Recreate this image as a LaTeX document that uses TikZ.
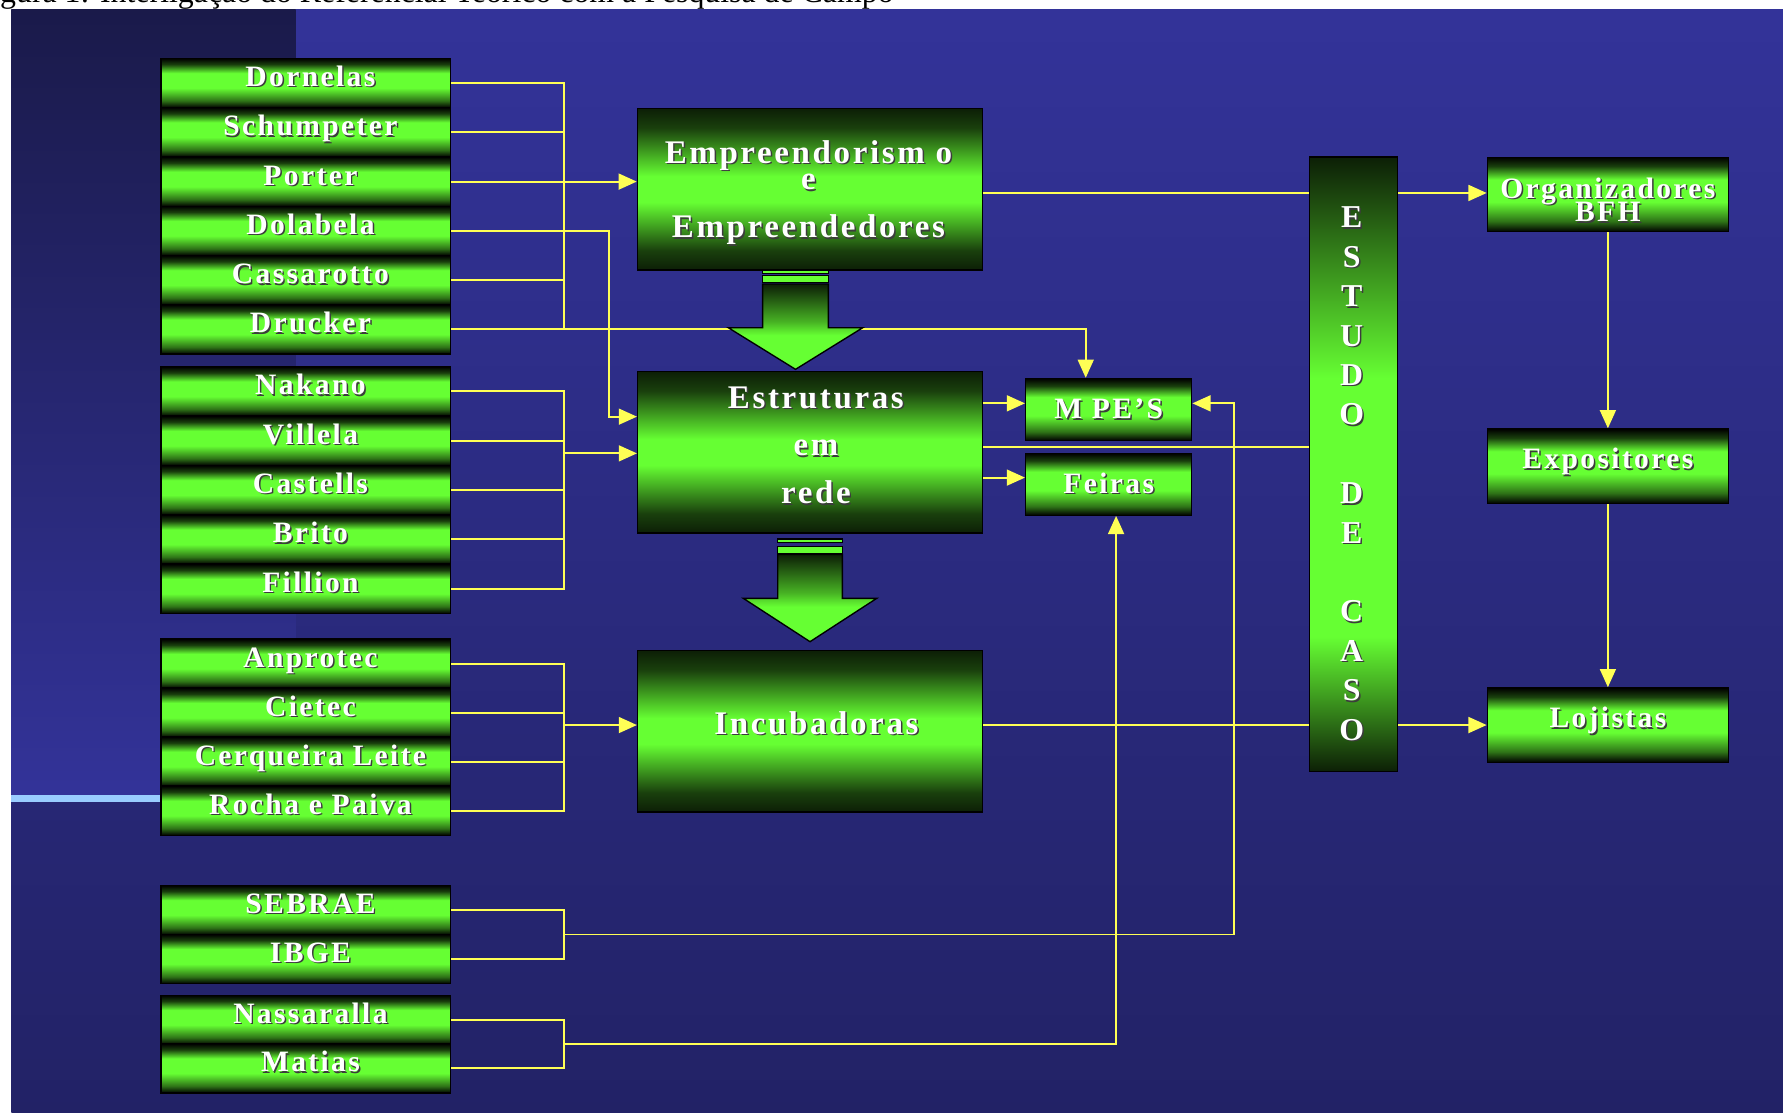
\documentclass[tikz,border=0pt]{standalone}
\usepackage{fontspec}
\usetikzlibrary{arrows.meta,calc}
\newfontfamily\lbl[LetterSpace=8]{Liberation Serif}
\newfontfamily\capfont{Liberation Serif}
\definecolor{gr}{RGB}{102,255,51}
\definecolor{ylw}{RGB}{255,255,85}
\definecolor{slidetop}{RGB}{51,51,153}
\definecolor{slidebot}{RGB}{34,34,102}
\definecolor{striptop}{RGB}{26,26,74}
\definecolor{lblue}{RGB}{153,204,255}
\definecolor{shadowc}{RGB}{60,60,60}
\colorlet{dkA}{black!55!gr}
\colorlet{dkB}{black!75!gr}
\colorlet{dkC}{black!88!gr}
\colorlet{dkD}{black!30!gr}
\pgfdeclareverticalshading{cylshade}{100bp}{color(0bp)=(black); color(25bp)=(black); color(32bp)=(dkA); color(45bp)=(gr); color(60bp)=(gr); color(69bp)=(dkB); color(75bp)=(black); color(100bp)=(black)}
\pgfdeclareverticalshading{bigshade}{100bp}{color(0bp)=(dkC); color(25bp)=(dkC); color(31bp)=(dkB); color(46bp)=(gr); color(54bp)=(gr); color(69bp)=(dkB); color(75bp)=(dkC); color(100bp)=(dkC)}
\pgfdeclareverticalshading{colshade}{100bp}{color(0bp)=(dkC); color(25bp)=(dkC); color(36bp)=(gr); color(57bp)=(gr); color(75bp)=(dkC); color(100bp)=(dkC)}
\pgfdeclareverticalshading{arrshade}{100bp}{color(0bp)=(gr); color(25bp)=(gr); color(45bp)=(gr); color(53bp)=(dkD); color(75bp)=(dkC); color(100bp)=(dkC)}
\newcommand\shd[1]{\leavevmode\rlap{\kern1.3pt\raisebox{-1.3pt}{\textcolor{shadowc}{#1}}}#1}
\pgfdeclarelayer{background}
\pgfdeclarelayer{lines}
\pgfsetlayers{background,lines,main}
\tikzset{
  ln/.style={draw=ylw, line width=1.7pt},
  arr/.style={ln, -{Triangle[length=16pt,width=14pt]}},
  box/.style={draw=black, line width=1.2pt, inner sep=0pt, text=white, shade},
  smallbox/.style={box, shading=cylshade, minimum width=254.8pt, minimum height=43.3pt,
    font=\lbl\bfseries\fontsize{26}{30}\selectfont, text height=12pt, text depth=6pt,
    execute at begin node=\hspace*{8pt}},
  rightbox/.style={box, shading=cylshade, minimum width=212pt, minimum height=65.5pt,
    font=\lbl\bfseries\fontsize{26}{30}\selectfont, text height=12pt, text depth=7.4pt},
  midbox/.style={box, shading=cylshade, minimum width=146pt, minimum height=54.5pt,
    font=\lbl\bfseries\fontsize{26}{30}\selectfont, text height=18pt, text depth=2pt},
  bigbox/.style={box, shading=bigshade, minimum width=303.5pt, minimum height=142pt},
  bigtxt/.style={anchor=base, inner sep=0pt, text=white, font=\lbl\bfseries\fontsize{29}{34}\selectfont},
  coltxt/.style={anchor=base, inner sep=0pt, text=white, font=\lbl\bfseries\fontsize{28}{34}\selectfont},
  rtxt/.style={anchor=base, inner sep=0pt, text=white, font=\lbl\bfseries\fontsize{26}{30}\selectfont},
  bigarrow/.style={shading=arrshade, draw=black, line width=1.2pt},
  barpiece/.style={fill=gr, draw=black, line width=1pt}
}
\begin{document}
\begin{tikzpicture}[x=1pt,y=-1pt]
\useasboundingbox (0,0) rectangle (1568,978);
\begin{pgfonlayer}{background}
  \node[anchor=base west, inner sep=0pt, font=\capfont\fontsize{28}{30}\selectfont] (caption) at (0,2.5)
    {\llap{Fi}gura 1: Interligação do Referencial Teórico com a Pesquisa de Campo};
  \shade[top color=slidetop, bottom color=slidebot] (10,8) rectangle (1568,978);
  \shade[top color=striptop, bottom color=slidetop] (10,8) rectangle (260,699);
  \fill[lblue] (10,699) rectangle (142,705);
\end{pgfonlayer}

% left column
\node[smallbox] (dornelas)   at (269,73.0)  {\shd{Dornelas}};
\node[smallbox] (schumpeter) at (269,116.3) {\shd{Schumpeter}};
\node[smallbox] (porter)     at (269,159.7) {\shd{Porter}};
\node[smallbox] (dolabela)   at (269,203.0) {\shd{Dolabela}};
\node[smallbox] (cassarotto) at (269,246.4) {\shd{Cassarotto}};
\node[smallbox] (drucker)    at (269,289.7) {\shd{Drucker}};
\node[smallbox] (nakano)     at (269,344.2) {\shd{Nakano}};
\node[smallbox] (villela)    at (269,387.6) {\shd{Villela}};
\node[smallbox] (castells)   at (269,431.0) {\shd{Castells}};
\node[smallbox] (brito)      at (269,474.4) {\shd{Brito}};
\node[smallbox] (fillion)    at (269,517.8) {\shd{Fillion}};
\node[smallbox] (anprotec)   at (269,583.7) {\shd{Anprotec}};
\node[smallbox] (cietec)     at (269,626.8) {\shd{Cietec}};
\node[smallbox] (cerqueira)  at (269,669.8) {\shd{Cerqueira Leite}};
\node[smallbox] (rocha)      at (269,712.9) {\shd{Rocha e Paiva}};
\node[smallbox] (sebrae)     at (269,800.3) {\shd{SEBRAE}};
\node[smallbox] (ibge)       at (269,843.3) {\shd{IBGE}};
\node[smallbox] (nassaralla) at (269,896.9) {\shd{Nassaralla}};
\node[smallbox] (matias)     at (269,939.5) {\shd{Matias}};

% central boxes
\node[bigbox] (emp)   at (712.35,166.4) {};
\node[bigtxt] (emp1) at (711,143.5) {\shd{Empreendorism o}};
\node[bigtxt] (emp2) at (711,167) {\shd{e}};
\node[bigtxt] (emp3) at (711,209) {\shd{Empreendedores}};
\node[bigbox] (estr)  at (712.5,397.7) {};
\node[bigtxt] (estr1) at (717.5,359) {\shd{Estruturas}};
\node[bigtxt] (estr2) at (717.5,401) {\shd{em}};
\node[bigtxt] (estr3) at (717.5,443.2) {\shd{rede}};
\node[bigbox] (incub) at (712.5,643) {};
\node[bigtxt] (incub1) at (718,645.5) {\shd{Incubadoras}};

\node[midbox] (mpes)   at (975,360.1) {\shd{M PE’S}};
\node[midbox] (feiras) at (975,425.8) {\shd{Feiras}};

% estudo de caso
\node[box, shading=colshade, minimum width=77.4pt, minimum height=540.5pt] (estudo) at (1190.2,408.45) {};
\foreach \l/\k in {E/0,S/1,T/2,U/3,D/4,O/5,D/7,E/8,C/10,A/11,S/12,O/13}
  \node[coltxt] (est\k) at (1188.7,{200.3+34.66*\k}) {\shd{\l}};

% right column
\node[rightbox] (org) at (1414,171) {};
\node[rtxt] (org1) at (1414,174.5) {\shd{Organizadores}};
\node[rtxt] (org2) at (1414,195) {\shd{BFH}};
\node[rightbox] (exp) at (1414,410) {\shd{Expositores}};
\node[rightbox] (loj) at (1414,637.7) {\shd{Lojistas}};

% big arrows
\filldraw[barpiece] (670.7,238) rectangle (728.5,240.5);
\filldraw[barpiece] (670.7,242.5) rectangle (728.5,248.3);
\shade[bigarrow] (670.7,249.8) -- (728.5,249.8) -- (728.5,288.2) -- (758.7,288.2) -- (699.6,324.8) -- (640.5,288.2) -- (670.7,288.2) -- cycle;
\filldraw[barpiece] (683.9,474) rectangle (740.8,477);
\filldraw[barpiece] (683.9,480.5) rectangle (740.8,486.6);
\shade[bigarrow] (683.9,487.5) -- (740.8,487.5) -- (740.8,526.2) -- (771,526.2) -- (712.35,564.3) -- (653.7,526.2) -- (683.9,526.2) -- cycle;

% coordinates
\coordinate (bus) at (496,0);
\coordinate (dolx) at (535.5,0);
\coordinate (sebx) at (1085.5,0);
\coordinate (estrin1) at ([yshift=31.3pt]estr.west);
\coordinate (estrin2) at ([yshift=-1pt]estr.west);
\coordinate (incin) at ([yshift=5.4pt]incub.west);
\coordinate (incout) at ([yshift=5.4pt]incub.east);
\coordinate (mpesin) at ([xshift=-20.2pt]mpes.north);
\coordinate (mpesr) at ([yshift=5.4pt]mpes.east);
\coordinate (mpesl) at ([yshift=5.4pt]mpes.west);
\coordinate (feirasl) at ([yshift=5.8pt]feiras.west);
\coordinate (feirasin) at ([xshift=6.5pt]feiras.south);
\coordinate (estrout) at ([yshift=4.9pt]estr.east);
\coordinate (empout) at ([yshift=-3.3pt]emp.east);
\coordinate (sebj) at ($(sebrae.east -| bus)!0.5!(ibge.east -| bus)$);
\coordinate (nasj) at ($(nassaralla.east -| bus)!0.5!(matias.east -| bus)$);

\begin{pgfonlayer}{lines}
  % group 1
  \draw[ln] (dornelas.east) -- (dornelas.east -| bus) -- (drucker.east -| bus);
  \foreach \n in {schumpeter,cassarotto} \draw[ln] (\n.east) -- (\n.east -| bus);
  \draw[arr] (porter.east) -- (porter.east -| emp.west);
  \draw[arr] (dolabela.east) -| (dolx |- estrin1) -- (estrin1);
  \draw[arr] (drucker.east) -| (mpesin);
  % group 2
  \draw[ln] (nakano.east) -- (nakano.east -| bus) -- (fillion.east -| bus) -- (fillion.east);
  \foreach \n in {villela,castells,brito} \draw[ln] (\n.east) -- (\n.east -| bus);
  \draw[arr] (bus |- estrin2) -- (estrin2);
  % group 3
  \draw[ln] (anprotec.east) -- (anprotec.east -| bus) -- (rocha.east -| bus) -- (rocha.east);
  \foreach \n in {cietec,cerqueira} \draw[ln] (\n.east) -- (\n.east -| bus);
  \draw[arr] (bus |- incin) -- (incin);
  % group 4
  \draw[ln] (sebrae.east) -- (sebrae.east -| bus) -- (ibge.east -| bus) -- (ibge.east);
  \draw[arr] (sebj) -| (sebx |- mpesr) -- (mpesr);
  % group 5
  \draw[ln] (nassaralla.east) -- (nassaralla.east -| bus) -- (matias.east -| bus) -- (matias.east);
  \draw[arr] (nasj) -| (feirasin);
  % centre to right
  \draw[arr] (estr.east |- mpesl) -- (mpesl);
  \draw[arr] (estr.east |- feirasl) -- (feirasl);
  \draw[ln] (estrout) -- (estrout -| estudo.west);
  \draw[ln] (empout) -- (empout -| estudo.west);
  \draw[arr] (empout -| estudo.east) -- (empout -| org.west);
  \draw[ln] (incout) -- (incout -| estudo.west);
  \draw[arr] (incout -| estudo.east) -- (incout -| loj.west);
  \draw[arr] (org.south) -- (exp.north);
  \draw[arr] (exp.south) -- (loj.north);
\end{pgfonlayer}
\end{tikzpicture}
\end{document}
